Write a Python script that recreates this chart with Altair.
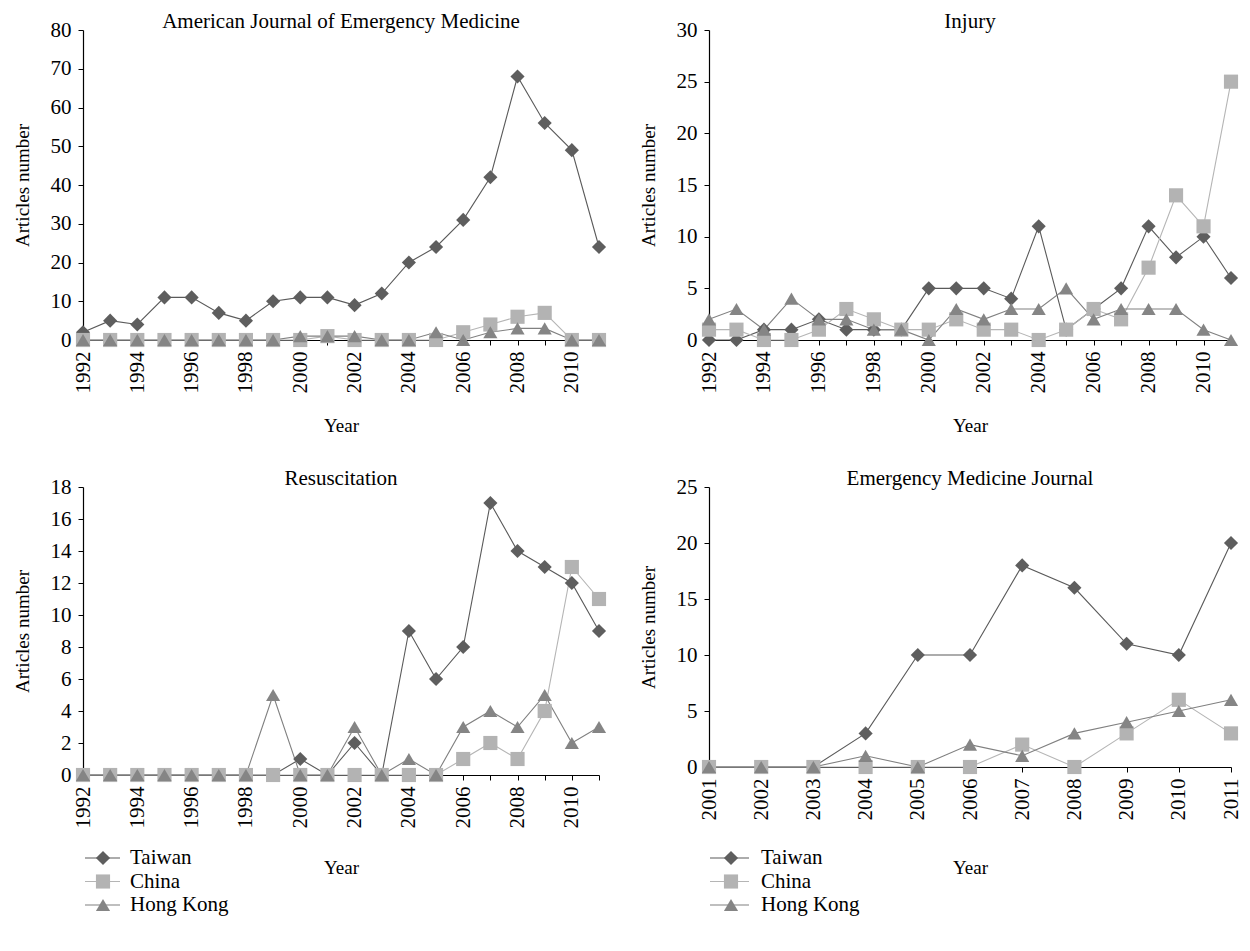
import altair as alt
import pandas as pd

SERIES = ["Taiwan", "China", "Hong Kong"]
LINE_COLORS = ["#5a5a5a", "#b5b5b5", "#808080"]
FILL_COLORS = ["#5e5e5e", "#b3b3b3", "#858585"]
SHAPES = ["diamond", "square", "triangle-up"]

YEARS_LONG = list(range(1992, 2012))
YEARS_EMJ = list(range(2001, 2012))

# American Journal of Emergency Medicine
ajem_taiwan = [2, 5, 4, 11, 11, 7, 5, 10, 11, 11, 9, 12, 20, 24, 31, 42, 68, 56, 49, 24]
ajem_china = [0, 0, 0, 0, 0, 0, 0, 0, 0, 1, 0, 0, 0, 0, 2, 4, 6, 7, 0, 0]
ajem_hk = [0, 0, 0, 0, 0, 0, 0, 0, 1, 1, 1, 0, 0, 2, 0, 2, 3, 3, 0, 0]

# Injury
inj_taiwan = [0, 0, 1, 1, 2, 1, 1, 1, 5, 5, 5, 4, 11, 1, 3, 5, 11, 8, 10, 6]
inj_china = [1, 1, 0, 0, 1, 3, 2, 1, 1, 2, 1, 1, 0, 1, 3, 2, 7, 14, 11, 25]
inj_hk = [2, 3, 1, 4, 2, 2, 1, 1, 0, 3, 2, 3, 3, 5, 2, 3, 3, 3, 1, 0]

# Resuscitation
res_taiwan = [0, 0, 0, 0, 0, 0, 0, 0, 1, 0, 2, 0, 9, 6, 8, 17, 14, 13, 12, 9]
res_china = [0, 0, 0, 0, 0, 0, 0, 0, 0, 0, 0, 0, 0, 0, 1, 2, 1, 4, 13, 11]
res_hk = [0, 0, 0, 0, 0, 0, 0, 5, 0, 0, 3, 0, 1, 0, 3, 4, 3, 5, 2, 3]

# Emergency Medicine Journal
emj_taiwan = [0, 0, 0, 3, 10, 10, 18, 16, 11, 10, 20]
emj_china = [0, 0, 0, 0, 0, 0, 2, 0, 3, 6, 3]
emj_hk = [0, 0, 0, 1, 0, 2, 1, 3, 4, 5, 6]

FONT = "Liberation Serif"
FS = 21       # tick labels, chart titles, legend
FS_AX = 19    # axis titles
MSIZE = 200


def make_df(years, tw, cn, hk):
    rows = []
    for name, vals in zip(SERIES, [tw, cn, hk]):
        for yr, v in zip(years, vals):
            rows.append({"year": yr, "value": v, "series": name})
    return pd.DataFrame(rows)


def panel(title, years, tw, cn, hk, ymax, ystep, w, h, every_other, xtitle_pad, legend_pos=None):
    df = make_df(years, tw, cn, hk)
    label_expr = "datum.value % 2 == 0 ? datum.label : ''" if every_other else "datum.label"
    x = alt.X("year:Q",
              scale=alt.Scale(domain=[years[0], years[-1]], nice=False, zero=False),
              axis=alt.Axis(values=years, labelExpr=label_expr, format="d", title="Year",
                            labelAngle=-90, labelPadding=6, titlePadding=xtitle_pad))
    y = alt.Y("value:Q",
              scale=alt.Scale(domain=[0, ymax], nice=False),
              axis=alt.Axis(values=list(range(0, ymax + 1, ystep)), title="Articles number",
                            labelPadding=7, titlePadding=18))
    color = alt.Color("series:N", scale=alt.Scale(domain=SERIES, range=LINE_COLORS), legend=None)
    fill = alt.Fill("series:N", scale=alt.Scale(domain=SERIES, range=FILL_COLORS), legend=None)
    shape = alt.Shape("series:N", scale=alt.Scale(domain=SERIES, range=SHAPES), legend=None)

    base = alt.Chart(df)
    lines = base.mark_line(strokeWidth=1.1).encode(x=x, y=y, color=color)
    points = base.mark_point(filled=True, size=MSIZE, opacity=1, strokeWidth=0).encode(
        x=x, y=y, fill=fill, shape=shape)
    main = alt.layer(lines, points)

    if legend_pos is None:
        ch = main
    else:
        lx0, lxs, lx1, ltx, ly0, ly1 = legend_pos
        ldf = pd.DataFrame({"series": SERIES, "idx": [0, 1, 2]})
        ly = alt.Y("idx:Q", scale=alt.Scale(domain=[0, 2], range=[h + ly0, h + ly1]), axis=None)
        lb = alt.Chart(ldf)
        rule = lb.mark_rule(strokeWidth=1.1).encode(x=alt.value(lx0), x2=alt.value(lx1), y=ly, color=color)
        sym = lb.mark_point(filled=True, size=MSIZE, opacity=1, strokeWidth=0).encode(
            x=alt.value(lxs), y=ly, fill=fill, shape=shape)
        txt = lb.mark_text(align="left", baseline="middle", font=FONT, fontSize=FS, color="black").encode(
            x=alt.value(ltx), y=ly, text="series:N")
        leg = alt.layer(rule, sym, txt)
        ch = alt.layer(main, leg).resolve_scale(y="independent")

    return ch.properties(width=w, height=h, title=alt.TitleParams(title, offset=-13))


p1 = panel("American Journal of Emergency Medicine", YEARS_LONG, ajem_taiwan, ajem_china, ajem_hk,
           80, 10, 516, 310, True, 23)
p2 = panel("Injury", YEARS_LONG, inj_taiwan, inj_china, inj_hk, 30, 5, 522, 310, True, 23)
p3 = panel("Resuscitation", YEARS_LONG, res_taiwan, res_china, res_hk, 18, 2, 516, 288, True, 30,
           legend_pos=(2, 20, 37, 47, 83, 130))
p4 = panel("Emergency Medicine Journal", YEARS_EMJ, emj_taiwan, emj_china, emj_hk, 25, 5, 522, 280, False, 38,
           legend_pos=(1, 22, 40, 52, 91, 138))

top = alt.hconcat(p1, p2, spacing=32)
bottom = alt.hconcat(p3, p4, spacing=32)
chart = alt.vconcat(top, bottom, spacing=33).properties(
    padding={"left": 5, "top": 3, "right": 0, "bottom": 5}
).configure(
    font=FONT
).configure_axis(
    labelFont=FONT, titleFont=FONT, labelFontSize=FS, titleFontSize=FS_AX,
    labelColor="black", titleColor="black", domainColor="black", tickColor="black",
    tickSize=5, grid=False, titleFontWeight="normal", domainWidth=1.2, tickWidth=1
).configure_title(
    font=FONT, fontSize=FS, fontWeight="normal", color="black", anchor="middle"
).configure_view(stroke=None)

chart.save("out.html", embed_options={"renderer": "svg", "actions": False})
